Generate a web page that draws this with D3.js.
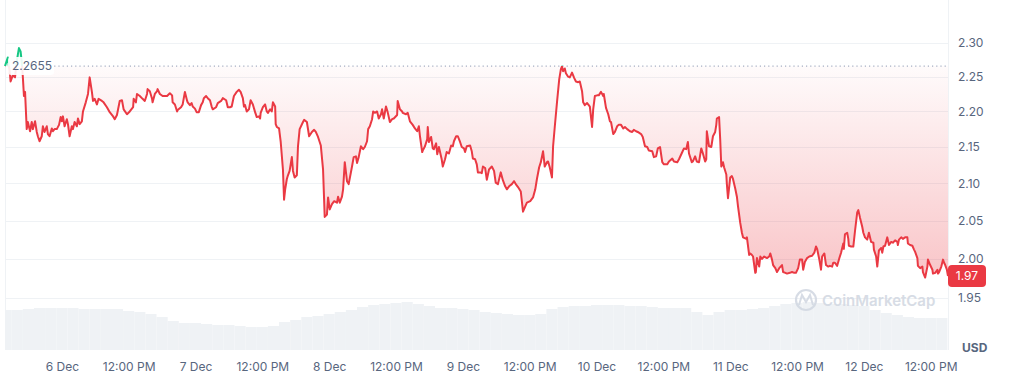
<!DOCTYPE html>
<html>
<head>
<meta charset="utf-8">
<style>
  body { margin: 0; background: #fff; }
  svg text { font-family: Inter, "Noto Sans", sans-serif; }
</style>
</head>
<body>
<svg width="1011" height="374"></svg>
<script src="https://d3js.org/d3.v7.min.js"></script>
<script>

// price series, hours from 6 Dec 00:00
var hours = [-10.2,-9.7,-9.3,-9.2,-8.8,-8.4,-8.1,-7.7,-7.4,-7.2,-7.0,-6.8,-6.6,-6.3,-6.1,-5.7,-5.4,-5.2,-4.8,-4.5,-4.3,-4.0,-3.6,-3.4,-3.1,-2.7,-2.5,-2.2,-1.8,-1.6,-1.3,-0.9,-0.5,-0.2,
  0,0.2,0.5,0.9,1.1,1.4,1.8,2.0,2.3,2.7,2.9,3.2,3.6,3.8,4.3,4.7,5.0,5.4,5.6,5.9,6.3,6.6,7.2,7.5,8.1,8.6,9.2,9.5,9.9,10.4,10.8,11.1,11.7,12.2,12.8,12.9,13.3,13.5,14.0,14.5,14.9,15.3,15.4,15.8,16.2,16.3,16.7,17.1,17.2,17.6,18.1,
  18.9,19.4,19.8,19.9,20.3,20.7,20.8,21.4,21.7,22.1,22.5,22.6,23.0,23.3,23.5,23.9,24.2,24.6,25.0,25.3,25.5,25.9,26.2,26.6,26.9,27.1,27.7,28.0,28.6,28.9,29.5,29.8,30.2,30.5,30.9,31.4,31.8,32.1,32.5,32.7,32.9,33.2,33.6,33.9,34.3,34.7,35.0,35.4,35.6,35.7,36.1,36.5,36.8,37.0,37.4,37.7,37.9,38.3,38.4,38.6,39.0,39.3,39.7,39.9,40.1,40.4,40.6,40.9,41.3,41.5,41.8,42.2,42.4,42.7,43.3,43.5,44.0,44.4,44.9,45.3,45.6,46.0,46.5,46.9,
  47.2,47.6,47.8,48.1,48.5,48.9,49.4,49.6,49.9,50.3,50.5,50.8,51.2,51.5,52.1,52.4,52.8,53.0,53.3,53.7,54.1,54.4,54.8,55.0,55.3,55.7,55.9,56.2,56.6,56.9,57.3,57.5,57.8,58.2,58.5,58.9,59.3,59.6,60.2,60.3,60.7,61.1,61.2,61.8,62.1,62.5,63.0,63.4,63.8,64.1,64.3,64.7,64.8,65.2,65.6,65.7,65.9,66.3,66.6,66.8,67.2,67.4,67.7,68.2,68.4,68.8,69.1,69.5,69.9,70.2,70.4,70.8,71.1,71.5,71.8,72.2,72.4,72.7,73.3,73.6,73.8,74.2,74.5,74.7,75.1,
  75.4,75.6,76.0,76.3,76.7,77.2,77.6,77.9,78.3,78.8,79.2,79.6,79.9,80.3,80.8,81.2,81.5,81.9,82.4,82.8,83.2,83.5,84.1,84.6,85.0,85.3,85.7,86.0,86.4,86.6,86.7,87.1,87.3,87.6,88.0,88.2,88.5,88.9,89.3,89.6,89.8,90.0,90.3,90.5,90.9,91.2,91.6,92.0,92.3,92.7,93.0,93.4,93.6,93.9,94.3,94.6,94.8,95.2,95.4,95.7,96.1,96.4,96.8,97.2,97.3,97.7,98.1,98.4,98.6,99.0,99.3,99.7,100.0,100.4,100.8,101.1,101.5,102.0,102.4,102.7,103.1,103.4,104.0,104.3,104.7,
  105.1,105.4,106.0,106.3,106.7,107.0,107.4,107.8,108.1,108.7,109.0,109.6,109.9,110.5,110.8,111.4,111.7,112.1,112.4,112.6,113.1,113.3,113.7,114.0,114.4,114.8,115.1,115.5,115.7,115.8,116.2,116.6,116.9,117.3,117.5,117.6,118.0,118.2,118.4,118.7,118.9,119.3,119.4,119.6,120.0,120.3,120.5,120.9,121.2,121.4,121.8,122.1,122.3,122.9,123.0,123.4,123.6,123.9,124.1,124.5,124.6,124.8,125.2,125.4,125.7,126.1,126.6,127.0,127.2,127.5,127.7,128.1,128.4,128.8,129.3,129.5,129.9,130.2,130.7,131.1,131.5,131.8,132.2,132.5,
  132.9,133.1,133.4,133.8,134.2,134.7,135.1,135.4,135.6,136.0,136.3,136.5,136.9,137.2,137.6,137.9,138.3,138.5,138.8,139.2,139.6,139.9,140.3,140.4,140.6,141.0,141.2,141.3,141.7,142.1,142.4,142.8,143.0,143.3,143.7,143.9,144.2,144.6,144.9,145.3,145.7,145.8,146.2,146.4,146.7,147.1,147.3,147.5,147.8,148.2,148.5,148.9,149.2,149.6,150.0,150.1,150.3,150.7,151.0,151.4,151.8,151.9,152.3,152.7,153.0,153.2,153.6,153.7,154.1,154.5,154.6,155.0,155.4,155.5,155.9,156.3,156.4,156.8,157.2,157.3,157.5,157.9,158.2,158.4,158.6,158.9,159.1];

var prices = [2.2655,2.278,2.253,2.243,2.252,2.249,2.272,2.292,2.287,2.272,2.250,2.222,2.228,2.175,2.185,2.172,2.185,2.175,2.186,2.171,2.165,2.158,2.165,2.179,2.171,2.179,2.168,2.165,2.176,2.172,2.175,2.175,2.181,2.192,
  2.186,2.193,2.179,2.189,2.182,2.165,2.179,2.175,2.185,2.179,2.190,2.182,2.186,2.200,2.213,2.225,2.249,2.228,2.215,2.218,2.210,2.218,2.215,2.213,2.206,2.199,2.193,2.189,2.195,2.215,2.216,2.203,2.196,2.200,2.206,2.218,2.213,2.225,2.222,2.218,2.215,2.225,2.232,2.229,2.218,2.213,2.225,2.229,2.232,2.225,2.222,
  2.222,2.226,2.223,2.213,2.210,2.200,2.202,2.206,2.210,2.228,2.215,2.213,2.209,2.212,2.207,2.204,2.199,2.199,2.209,2.213,2.219,2.222,2.219,2.216,2.207,2.203,2.206,2.212,2.215,2.219,2.216,2.206,2.206,2.207,2.222,2.228,2.231,2.228,2.219,2.207,2.209,2.200,2.203,2.216,2.210,2.199,2.192,2.193,2.190,2.198,2.206,2.210,2.200,2.198,2.203,2.200,2.213,2.207,2.182,2.178,2.176,2.157,2.119,2.078,2.092,2.106,2.111,2.117,2.136,2.117,2.108,2.111,2.151,2.175,2.185,2.188,2.185,2.165,2.171,2.174,2.171,2.164,2.152,2.119,
  2.055,2.058,2.081,2.065,2.072,2.076,2.074,2.082,2.074,2.082,2.092,2.129,2.103,2.099,2.123,2.136,2.137,2.128,2.136,2.151,2.147,2.150,2.158,2.175,2.179,2.189,2.200,2.198,2.200,2.190,2.196,2.203,2.190,2.207,2.199,2.185,2.189,2.190,2.195,2.215,2.203,2.200,2.198,2.196,2.198,2.186,2.181,2.176,2.172,2.179,2.165,2.143,2.145,2.151,2.161,2.178,2.157,2.164,2.148,2.147,2.155,2.140,2.150,2.133,2.123,2.133,2.143,2.141,2.152,2.151,2.158,2.165,2.165,2.157,2.150,2.148,2.143,2.151,2.152,2.144,2.134,2.133,2.126,2.115,2.115,
  2.114,2.123,2.121,2.105,2.119,2.123,2.117,2.101,2.099,2.115,2.104,2.096,2.092,2.096,2.099,2.103,2.099,2.095,2.089,2.062,2.069,2.074,2.076,2.081,2.092,2.106,2.122,2.129,2.144,2.130,2.123,2.129,2.130,2.122,2.108,2.151,2.178,2.213,2.246,2.261,2.265,2.258,2.262,2.255,2.250,2.249,2.256,2.248,2.243,2.242,2.243,2.229,2.213,2.209,2.212,2.209,2.207,2.178,2.203,2.222,2.223,2.223,2.228,2.222,2.225,2.205,2.196,2.186,2.185,2.168,2.171,2.179,2.181,2.181,2.176,2.178,2.175,2.172,2.171,2.174,2.172,2.171,2.168,2.164,2.151,
  2.150,2.145,2.144,2.136,2.137,2.148,2.150,2.129,2.126,2.126,2.130,2.134,2.130,2.129,2.133,2.143,2.148,2.147,2.157,2.141,2.129,2.130,2.137,2.130,2.129,2.148,2.141,2.130,2.133,2.172,2.151,2.150,2.165,2.171,2.181,2.190,2.192,2.161,2.123,2.129,2.122,2.112,2.099,2.080,2.108,2.110,2.106,2.093,2.082,2.069,2.047,2.034,2.028,2.026,2.028,2.005,2.007,2.005,2.003,1.982,1.983,2.001,1.990,2.003,2.000,2.003,2.001,2.003,2.007,1.999,1.992,1.988,1.983,1.988,1.992,1.983,1.982,1.981,1.982,1.983,1.982,1.982,1.988,1.999,
  1.999,1.986,1.996,2.001,2.003,2.004,2.008,2.016,2.013,1.999,1.986,2.003,2.007,1.992,1.990,1.991,1.990,1.995,1.995,1.991,2.001,2.008,2.020,2.013,2.032,2.034,2.026,2.017,2.016,2.016,2.036,2.061,2.064,2.054,2.042,2.034,2.028,2.025,2.034,2.022,2.021,2.012,2.003,1.990,2.011,2.014,2.008,2.016,2.017,2.028,2.018,2.022,2.021,2.024,2.022,2.018,2.025,2.028,2.026,2.028,2.028,2.020,2.018,2.017,2.012,2.009,2.001,1.991,1.988,1.990,1.983,1.976,1.990,1.999,1.992,1.986,1.981,1.982,1.986,1.981,1.983,1.990,1.999,1.995,1.992,1.986,1.978];

// volume, 2-hour buckets ($M)
var volHours = [-10,-8,-6,-4,-2,0,2,4,6,8,10,12,14,16,18,20,22,24,26,28,30,32,34,36,38,40,42,44,46,48,50,52,54,56,58,60,62,64,66,68,70,72,74,76,78,80,82,84,86,88,90,92,94,96,98,100,102,104,106,108,110,112,114,116,118,120,122,124,126,128,130,132,134,136,138,140,142,144,146,148,150,152,154,156,158];
var volumes = [1000,1000,1025,1050,1050,1050,1050,1025,1025,1025,1025,975,950,900,825,725,675,675,650,625,625,600,575,575,600,700,750,825,850,900,950,1000,1075,1125,1150,1175,1200,1150,1100,1050,1050,1025,1000,950,925,900,875,875,900,1025,1075,1100,1100,1125,1125,1125,1100,1100,1075,1050,1050,1050,950,875,950,1000,1000,1025,1050,1100,1150,1175,1200,1175,1150,1150,1125,1100,1000,925,875,825,800,800,800];

var yTicks = [1.95, 2.00, 2.05, 2.10, 2.15, 2.20, 2.25, 2.30];
var openPrice = 2.2655;
var lastLabel = "1.97";

var base = new Date(2024, 11, 6, 0, 0);
function toDate(h) { return new Date(base.getTime() + h * 3600000); }

var data = hours.map(function(h, i) { return { t: toDate(h), p: prices[i] }; });
var volData = volHours.map(function(h, i) { return { t: toDate(h), v: volumes[i] }; });

var svg = d3.select("svg");
var left = 5, right = 948, bottom = 350;

var x = d3.scaleTime()
  .domain([data[0].t, data[data.length - 1].t])
  .range([left, right]);

var y = d3.scaleLog()
  .domain([1.95, 2.30])
  .range([298, 42.7]);

var yv = d3.scaleLinear()
  .domain([0, 1250])
  .range([bottom, 300]);

var red = "#ea3943", green = "#16c784";

// grid
svg.append("g")
  .selectAll("line")
  .data(yTicks)
  .enter().append("line")
  .attr("x1", left)
  .attr("x2", right)
  .attr("y1", function(d) { return Math.round(y(d)) + 0.5; })
  .attr("y2", function(d) { return Math.round(y(d)) + 0.5; })
  .attr("stroke", "#eff2f5");

[left, right].forEach(function(xx) {
  svg.append("line")
    .attr("x1", xx + 0.5).attr("x2", xx + 0.5)
    .attr("y1", 0).attr("y2", bottom)
    .attr("stroke", "#eff2f5");
});

// volume bars
var bw = x(toDate(2)) - x(toDate(0));
svg.append("g")
  .selectAll("rect")
  .data(volData)
  .enter().append("rect")
  .attr("x", function(d) { return Math.max(left + 1, x(d.t) - bw / 2); })
  .attr("width", function(d) {
    var x0 = Math.max(left + 1, x(d.t) - bw / 2);
    return Math.min(right, x(d.t) + bw / 2) - x0;
  })
  .attr("y", function(d) { return yv(d.v); })
  .attr("height", function(d) { return bottom - yv(d.v); })
  .attr("fill", "#eff2f5");

// watermark
var wm = svg.append("g").attr("opacity", 0.9);
wm.append("circle")
  .attr("cx", 806).attr("cy", 300).attr("r", 10)
  .attr("fill", "none").attr("stroke", "#d3d9e3").attr("stroke-width", 2.2);
wm.append("path")
  .attr("d", "M799,305 L802,295 L806,302 L810,295 L813,305")
  .attr("fill", "none").attr("stroke", "#d3d9e3").attr("stroke-width", 2);
wm.append("text")
  .attr("x", 822).attr("y", 306)
  .attr("font-size", "15px")
  .attr("font-weight", 600)
  .attr("fill", "#d3d9e3")
  .text("CoinMarketCap");

// fills + line, split at the open price
var yBase = y(openPrice);
var defs = svg.append("defs");

defs.append("clipPath").attr("id", "below")
  .append("rect").attr("x", 0).attr("y", yBase).attr("width", 1011).attr("height", 374);
defs.append("clipPath").attr("id", "above")
  .append("rect").attr("x", 0).attr("y", 0).attr("width", 1011).attr("height", yBase);

var gradR = defs.append("linearGradient").attr("id", "gradR")
  .attr("gradientUnits", "userSpaceOnUse")
  .attr("x1", 0).attr("x2", 0).attr("y1", yBase).attr("y2", y(1.95));
gradR.append("stop").attr("offset", 0).attr("stop-color", red).attr("stop-opacity", 0.02);
gradR.append("stop").attr("offset", 1).attr("stop-color", red).attr("stop-opacity", 0.32);

var gradG = defs.append("linearGradient").attr("id", "gradG")
  .attr("gradientUnits", "userSpaceOnUse")
  .attr("x1", 0).attr("x2", 0).attr("y1", y(2.30)).attr("y2", yBase);
gradG.append("stop").attr("offset", 0).attr("stop-color", green).attr("stop-opacity", 0.25);
gradG.append("stop").attr("offset", 1).attr("stop-color", green).attr("stop-opacity", 0.02);

var area = d3.area()
  .x(function(d) { return x(d.t); })
  .y0(yBase)
  .y1(function(d) { return y(d.p); });

var line = d3.line()
  .x(function(d) { return x(d.t); })
  .y(function(d) { return y(d.p); });

svg.append("path").datum(data)
  .attr("clip-path", "url(#below)")
  .attr("fill", "url(#gradR)")
  .attr("d", area);
svg.append("path").datum(data)
  .attr("clip-path", "url(#above)")
  .attr("fill", "url(#gradG)")
  .attr("d", area);

// dotted open line
svg.append("line")
  .attr("x1", 50).attr("x2", right)
  .attr("y1", yBase).attr("y2", yBase)
  .attr("stroke", "#a6b0c3")
  .attr("stroke-width", 1.2)
  .attr("stroke-dasharray", "1.2,3");

svg.append("path").datum(data)
  .attr("clip-path", "url(#below)")
  .attr("fill", "none").attr("stroke", red).attr("stroke-width", 2)
  .attr("stroke-linejoin", "round")
  .attr("d", line);
svg.append("path").datum(data)
  .attr("clip-path", "url(#above)")
  .attr("fill", "none").attr("stroke", green).attr("stroke-width", 2)
  .attr("stroke-linejoin", "round")
  .attr("d", line);

// open price tag
svg.append("rect")
  .attr("x", 8).attr("y", yBase - 9).attr("width", 46).attr("height", 18).attr("rx", 3)
  .attr("fill", "#fff").attr("opacity", 0.9);
svg.append("text")
  .attr("x", 12).attr("y", yBase).attr("dy", "0.35em")
  .attr("font-size", "12px").attr("fill", "#58667e")
  .text(d3.format(".4f")(openPrice));

// y axis (right)
var yAxis = svg.append("g")
  .attr("transform", "translate(" + (right + 7) + ",0)")
  .call(d3.axisRight(y).tickValues(yTicks).tickFormat(d3.format(".2f")).tickSize(0));
yAxis.select(".domain").remove();
yAxis.selectAll("text")
  .attr("font-family", "Inter, sans-serif")
  .attr("font-size", "12px")
  .attr("fill", "#58667e");

// last price badge
var yLast = y(prices[prices.length - 1]);
svg.append("rect")
  .attr("x", right).attr("y", yLast - 11).attr("width", 38).attr("height", 22).attr("rx", 4)
  .attr("fill", red);
svg.append("text")
  .attr("x", right + 19).attr("y", yLast).attr("dy", "0.35em")
  .attr("text-anchor", "middle")
  .attr("font-size", "12px").attr("fill", "#fff")
  .text(lastLabel);

// x axis
var fmtTick = function(d) {
  return d.getHours() === 0 ? d3.timeFormat("%-d %b")(d) : "12:00 PM";
};
var xAxis = svg.append("g")
  .attr("transform", "translate(0," + 359 + ")")
  .call(d3.axisBottom(x).ticks(d3.timeHour.every(12)).tickFormat(fmtTick).tickSize(0));
xAxis.select(".domain").remove();
xAxis.selectAll("text")
  .attr("font-family", "Inter, sans-serif")
  .attr("font-size", "12px")
  .attr("fill", "#58667e");

svg.append("text")
  .attr("x", 962).attr("y", 352)
  .attr("font-size", "12px").attr("font-weight", 700)
  .attr("fill", "#58667e")
  .text("USD");

</script>
</body>
</html>
